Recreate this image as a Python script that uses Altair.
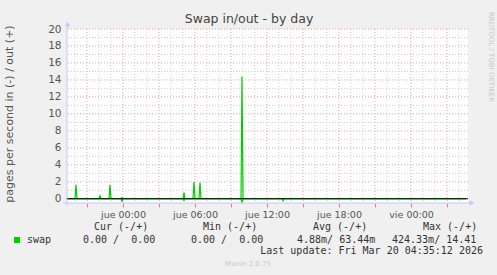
import altair as alt
import pandas as pd

# ---------------- data ----------------
start_time = "2026-03-18 19:15"
end_time = "2026-03-20 04:35"
origin_time = "2026-03-19 00:00"   # "jue 00:00"

out_times = ["2026-03-18 20:05", "2026-03-18 22:05", "2026-03-18 22:55",
             "2026-03-18 23:55", "2026-03-19 05:05", "2026-03-19 05:55",
             "2026-03-19 06:25", "2026-03-19 09:55"]
out_values = [1.65, 0.35, 1.65, 0.15, 0.75, 2.0, 1.9, 14.41]

in_times = ["2026-03-18 23:55", "2026-03-19 05:05", "2026-03-19 09:55",
            "2026-03-19 13:20"]
in_values = [0.30, 0.20, 0.424, 0.25]

tick_hours = [0, 6, 12, 18, 24]
tick_labels = ["jue 00:00", "jue 06:00", "jue 12:00", "jue 18:00", "vie 00:00"]

legend_headers = ["Cur (-/+)", "Min (-/+)", "Avg (-/+)", "Max (-/+)"]
legend_values = ["0.00 /  0.00", "0.00 /  0.00", "4.88m/ 63.44m", "424.33m/ 14.41"]
series_name = "swap"
last_update = "Last update: Fri Mar 20 04:35:12 2026"
title_text = "Swap in/out - by day"
y_title = "pages per second in (-) / out (+)"

# ---------------- build table ----------------
idx = pd.date_range(start_time, end_time, freq="5min")
origin = pd.Timestamp(origin_time)
out_s = pd.Series(0.0, index=idx)
out_s[pd.to_datetime(out_times)] = out_values
in_s = pd.Series(0.0, index=idx)
in_s[pd.to_datetime(in_times)] = [-v for v in in_values]
hours = (idx - origin) / pd.Timedelta(hours=1)
df = pd.concat([
    pd.DataFrame({"h": hours, "v": out_s.values, "s": "out"}),
    pd.DataFrame({"h": hours, "v": in_s.values, "s": "in"}),
])

X_DOM = [-56 / 12, 345 / 12]
Y_DOM = [-0.5, 20]
W, H = 401, 174
xs = alt.Scale(domain=X_DOM, nice=False, zero=False)
ys = alt.Scale(domain=Y_DOM, nice=False, zero=False)

GREEN = "#00cc00"
RED_GRID = "#eca0a0"
GRAY_GRID = "#cccccc"
AXIS_BLUE = "#c4c8f4"

label_expr = " : ".join(
    [f"datum.value == {h} ? '{l}'" for h, l in zip(tick_hours, tick_labels)]) + " : ''"

X_AXIS = alt.Axis(values=list(range(-3, 28, 3)), labelExpr=label_expr, title=None,
                  domain=False, grid=False, tickColor="#e08080", tickSize=4,
                  labelPadding=2, labelFont="DejaVu Sans", labelFontSize=9.5,
                  labelColor="#555555", labelFlush=False, labelOverlap=False)
Y_AXIS = alt.Axis(values=list(range(0, 21, 2)), title=None, domain=False, grid=False,
                  ticks=False, labelPadding=6, labelFont="DejaVu Sans",
                  labelFontSize=10.5, labelColor="#555555", labelOverlap=False)

# grid layers
hgrid = pd.DataFrame({"y": list(range(1, 21))})
hgrid["major"] = hgrid["y"] % 2 == 0
vgrid = pd.DataFrame({"x": list(range(-4, 29))})
vgrid["major"] = vgrid["x"] % 3 == 0

def hrule(d, color):
    return alt.Chart(d).mark_rule(color=color, strokeDash=[1, 2], strokeWidth=1).encode(
        y=alt.Y("y:Q", scale=ys, axis=Y_AXIS))

def vrule(d, color):
    return alt.Chart(d).mark_rule(color=color, strokeDash=[1, 2], strokeWidth=1).encode(
        x=alt.X("x:Q", scale=xs, axis=X_AXIS))

hg_minor = hrule(hgrid[~hgrid.major], GRAY_GRID)
vg_minor = vrule(vgrid[~vgrid.major], GRAY_GRID)
hg_major = hrule(hgrid[hgrid.major], RED_GRID)
vg_major = vrule(vgrid[vgrid.major], RED_GRID)

lines = alt.Chart(df).mark_line(color=GREEN, strokeWidth=1.2, interpolate="linear").encode(
    x=alt.X("h:Q", scale=xs, axis=X_AXIS),
    y=alt.Y("v:Q", scale=ys, axis=Y_AXIS),
    detail="s:N",
)

zero_line = alt.Chart(pd.DataFrame({"y": [0]})).mark_rule(color="black", strokeWidth=1).encode(
    y=alt.Y("y:Q", scale=ys, axis=Y_AXIS))

one = pd.DataFrame({"a": [0]})
y_axis_line = alt.Chart(one).mark_rule(color=AXIS_BLUE, strokeWidth=1).encode(
    x=alt.value(0), y=alt.value(-6), y2=alt.value(H + 3))
x_axis_line = alt.Chart(one).mark_rule(color=AXIS_BLUE, strokeWidth=1).encode(
    x=alt.value(-4), x2=alt.value(W + 4), y=alt.value(H))
arrow_up = alt.Chart(one).mark_point(shape="triangle-up", filled=True, color=AXIS_BLUE, size=30, opacity=1).encode(
    x=alt.value(0.5), y=alt.value(-5))
arrow_right = alt.Chart(one).mark_point(shape="triangle-right", filled=True, color=AXIS_BLUE, size=30, opacity=1).encode(
    x=alt.value(W + 4), y=alt.value(H))

# ---------------- texts (positions relative to plot origin at page (67,29)) ----------------
NBSP = "\u00a0"

def txt(text, x, y, size=10, color="#333333", align="left", font="DejaVu Sans Mono", angle=0):
    kw = dict(align=align, baseline="middle", fontSize=size, color=color, font=font)
    if angle:
        kw["angle"] = angle
    return alt.Chart(pd.DataFrame({"t": [text.replace(" ", NBSP)]})).mark_text(**kw).encode(
        text="t:N", x=alt.value(x), y=alt.value(y))

texts = [
    txt(title_text, 182, -10, size=12.5, color="#444444", align="center", font="DejaVu Sans"),
    txt(y_title, -57, 85, size=11, color="#555555", align="center", font="DejaVu Sans", angle=270),
    txt("RRDTOOL / TOBI OETIKER", 424, 28, size=7, color="#c8c8c8", align="center",
        font="DejaVu Sans", angle=90),
    txt("Munin 2.0.75", 181, 235, size=7, color="#c8c8c8", align="center", font="DejaVu Sans"),
    txt(last_update, 416, 222, align="right"),
    txt(series_name, -40, 211),
]
header_x = [27, 136, 246, 356]
value_x = [16, 124, 230, 325]
for hx, ht in zip(header_x, legend_headers):
    texts.append(txt(ht, hx, 198))
for vx, vt in zip(value_x, legend_values):
    texts.append(txt(vt, vx, 211))

swatch = alt.Chart(one).mark_square(color=GREEN, size=36, opacity=1).encode(
    x=alt.value(-50), y=alt.value(211))

chart = alt.layer(
    hg_minor, vg_minor, hg_major, vg_major, lines, zero_line,
    y_axis_line, x_axis_line, arrow_up, arrow_right, swatch, *texts
).properties(
    width=W, height=H,
    autosize=alt.AutoSizeParams(type="none"),
    padding={"left": 67, "top": 29, "right": 29, "bottom": 72},
    background="#f0f0f0",
).configure_view(fill="white", stroke=None)

chart.save("out.html", embed_options={"renderer": "svg", "actions": False})
